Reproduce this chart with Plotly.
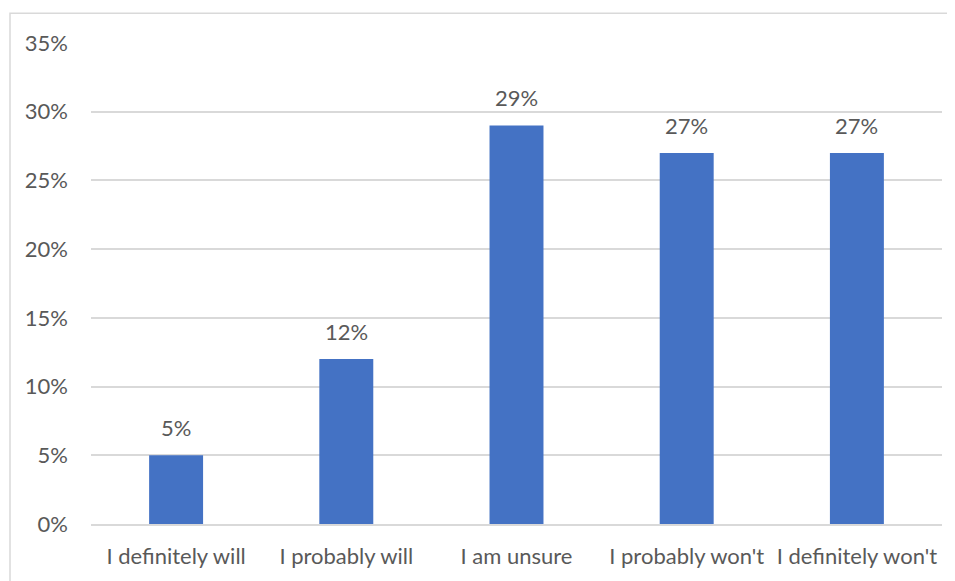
import plotly.graph_objects as go

categories = ["I definitely will", "I probably will", "I am unsure", "I probably won't", "I definitely won't"]
values = [0.05, 0.12, 0.29, 0.27, 0.27]
y_ticks = [0, 0.05, 0.10, 0.15, 0.20, 0.25, 0.30, 0.35]
y_tick_labels = ["0%", "5%", "10%", "15%", "20%", "25%", "30%", "35%"]

# page has an 8px body margin, so the figure is sized/placed accordingly
W, H = 947, 573
ml, mr, mt, mb = 83, 13, 35, 52
font_family = "Lato"
fs = 22
text_color = "#595959"
grid_color = "#D9D9D9"

fig = go.Figure()
fig.add_trace(go.Bar(
    x=categories, y=values,
    marker=dict(color="#4472C4", line=dict(width=0)),
    hoverinfo="skip",
))

for c, v in zip(categories, values):
    fig.add_annotation(
        x=c, y=v, text=f"{round(v*100)}%", showarrow=False,
        yanchor="bottom", yshift=12,
        font=dict(family=font_family, size=fs, color=text_color),
    )

# chart border (light gray frame)
pw, ph = W - ml - mr, H - mt - mb
fig.add_shape(
    type="rect", xref="paper", yref="paper",
    x0=(2 - ml) / pw, x1=(W + 20 - ml) / pw,
    y0=-(H + 20 - mt - ph) / ph, y1=(ph + mt - 5) / ph,
    line=dict(color=grid_color, width=1.5), layer="below",
)

fig.update_layout(
    width=W, height=H,
    margin=dict(l=ml, r=mr, t=mt, b=mb, pad=0),
    paper_bgcolor="white", plot_bgcolor="white",
    bargap=0.683, showlegend=False,
    font=dict(family=font_family, size=fs, color=text_color),
)
fig.update_xaxes(
    showgrid=False, showline=True, linecolor=grid_color, linewidth=1.5,
    ticks="", ticklabelstandoff=12,
    tickfont=dict(family=font_family, size=fs, color=text_color),
)
fig.update_yaxes(
    range=[0, 0.35], tickvals=y_ticks, ticktext=y_tick_labels,
    showgrid=True, gridcolor=grid_color, gridwidth=1.5,
    zeroline=False, showline=False, ticks="", ticklabelstandoff=22,
    tickfont=dict(family=font_family, size=fs, color=text_color),
)

fig.write_html("out.html")
